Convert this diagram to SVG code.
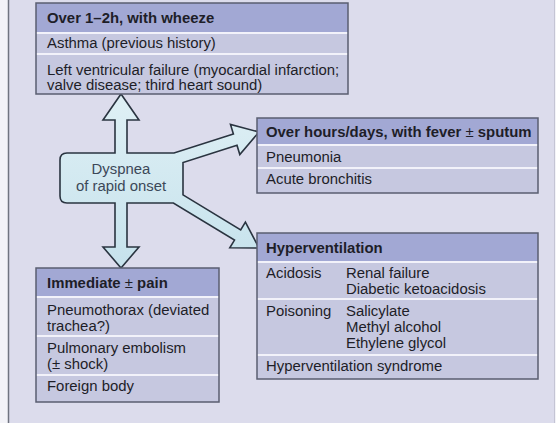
<svg xmlns="http://www.w3.org/2000/svg" width="556" height="423" viewBox="0 0 556 423">
<defs>
<style>
.bg{fill:#dcdcec}
.hdr{fill:#a2a8d4}
.body{fill:#c6c8e0}
.frame{fill:none;stroke:#5a5e70;stroke-width:1.5}
.sep{stroke:#f2f2fa;stroke-width:2}
text{font-family:"Liberation Sans",Arial,sans-serif;font-size:14.9px;fill:#1e1e28}
.b{font-weight:bold}
.c{fill:#3c4858;text-anchor:middle;font-size:14.9px}
</style>
<linearGradient id="g" x1="0" y1="0" x2="0" y2="1">
<stop offset="0" stop-color="#dff0f5"/>
<stop offset="1" stop-color="#c6e2ec"/>
</linearGradient>
</defs>
<rect x="0" y="0" width="556" height="423" fill="#f3f3f8"/>
<rect class="bg" x="9" y="0" width="545" height="423"/>
<line x1="8.5" y1="0" x2="8.5" y2="423" stroke="#707480" stroke-width="1.5"/>
<line x1="554.5" y1="0" x2="554.5" y2="423" stroke="#c4c4d4" stroke-width="1"/>

<g id="connectors">
<path d="M67,153 L115,153 L115,120 L103,120 L121,94 L139,120 L127,120 L127,153 L174,153 L233.4,133.9 L230.5,124.5 L259,132 L239.8,154.6 L237,145.3 L183,162.6 L183,194.9 L240.7,229.9 L245.4,222.2 L259,248 L229.8,247.8 L234.5,240.1 L173.4,203 L127,203 L127,247 L139,247 L121,268 L103,247 L115,247 L115,203 L67,203 Q60,203 60,196 L60,160 Q60,153 67,153 Z" fill="url(#g)" stroke="#2a3440" stroke-width="1.6" stroke-linejoin="miter"/>
</g>

<g id="center">
<text class="c" x="121" y="174">Dyspnea</text>
<text class="c" x="121" y="191">of rapid onset</text>
</g>

<g id="wheeze">
<rect class="body" x="36" y="3" width="312" height="91"/>
<rect class="hdr" x="36" y="3" width="312" height="30"/>
<line class="sep" x1="36" y1="33" x2="348" y2="33"/>
<line class="sep" x1="36" y1="54" x2="348" y2="54"/>
<rect class="frame" x="36" y="3" width="312" height="91"/>
<text class="b" x="47" y="23">Over 1–2h, with wheeze</text>
<text x="47" y="48">Asthma (previous history)</text>
<text x="47" y="75">Left ventricular failure (myocardial infarction;</text>
<text x="47" y="90">valve disease; third heart sound)</text>
</g>

<g id="fever">
<rect class="body" x="257" y="118" width="281" height="75"/>
<rect class="hdr" x="257" y="118" width="281" height="27"/>
<line class="sep" x1="257" y1="145" x2="538" y2="145"/>
<line class="sep" x1="257" y1="168" x2="538" y2="168"/>
<rect class="frame" x="257" y="118" width="281" height="75"/>
<text class="b" x="266" y="137">Over hours/days, with fever <tspan font-weight="normal">±</tspan> sputum</text>
<text x="266" y="162">Pneumonia</text>
<text x="266" y="184">Acute bronchitis</text>
</g>

<g id="hyper">
<rect class="body" x="257" y="233" width="281" height="146"/>
<rect class="hdr" x="257" y="233" width="281" height="29"/>
<line class="sep" x1="257" y1="262" x2="538" y2="262"/>
<line class="sep" x1="257" y1="299" x2="538" y2="299"/>
<line class="sep" x1="257" y1="355" x2="538" y2="355"/>
<rect class="frame" x="257" y="233" width="281" height="146"/>
<text class="b" x="266" y="253">Hyperventilation</text>
<text x="266" y="278">Acidosis</text>
<text x="346" y="278">Renal failure</text>
<text x="346" y="294">Diabetic ketoacidosis</text>
<text x="266" y="316">Poisoning</text>
<text x="346" y="316">Salicylate</text>
<text x="346" y="332">Methyl alcohol</text>
<text x="346" y="348">Ethylene glycol</text>
<text x="266" y="371">Hyperventilation syndrome</text>
</g>

<g id="immediate">
<rect class="body" x="36" y="268" width="183" height="134"/>
<rect class="hdr" x="36" y="268" width="183" height="29"/>
<line class="sep" x1="36" y1="297" x2="219" y2="297"/>
<line class="sep" x1="36" y1="336" x2="219" y2="336"/>
<line class="sep" x1="36" y1="375" x2="219" y2="375"/>
<rect class="frame" x="36" y="268" width="183" height="134"/>
<text class="b" x="47" y="288">Immediate <tspan font-weight="normal">±</tspan> pain</text>
<text x="47" y="315">Pneumothorax (deviated</text>
<text x="47" y="331">trachea?)</text>
<text x="47" y="353">Pulmonary embolism</text>
<text x="47" y="369">(± shock)</text>
<text x="47" y="391">Foreign body</text>
</g>
</svg>
